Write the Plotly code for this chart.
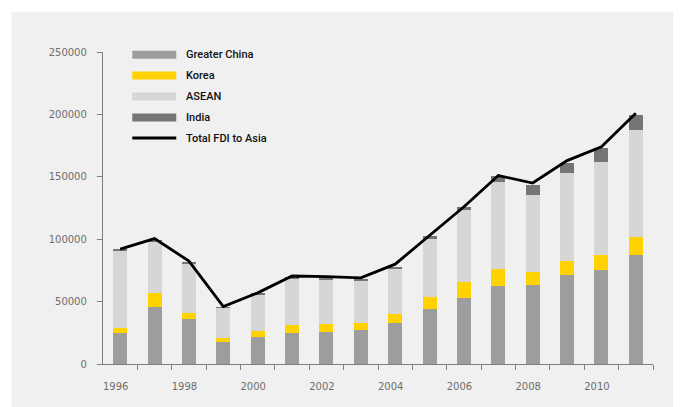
import plotly.graph_objects as go

years = list(range(1996, 2012))
greater_china = [24800, 45300, 36300, 17900, 21300, 25100, 25900, 26900, 33100, 43700, 52900, 62200, 63000, 71500, 75500, 87300]
korea = [4400, 11200, 4500, 2600, 4800, 5800, 5800, 5600, 6600, 9600, 12500, 13600, 10900, 11200, 12000, 14100]
asean = [61800, 41700, 40100, 24600, 29700, 37700, 35800, 34200, 36600, 46800, 58400, 70000, 61500, 70300, 74500, 86300]
india = [700, 800, 1000, 500, 600, 900, 1100, 1100, 1400, 2100, 2400, 4500, 8200, 8200, 11000, 12000]
total_fdi = [92000, 100500, 82500, 46000, 57000, 70500, 70000, 69000, 80000, 103000, 126000, 151000, 145000, 163000, 174000, 201000]

x_label_years = [1996, 1998, 2000, 2002, 2004, 2006, 2008, 2010]
y_ticks = [0, 50000, 100000, 150000, 200000, 250000]

series_names = ["Greater China", "Korea", "ASEAN", "India"]
series_values = [greater_china, korea, asean, india]
colors = ["#9d9d9d", "#ffd200", "#d6d6d6", "#757575"]

W, H = 681, 407
OFF = 8  # page body margin
L, T = 102.7 - OFF, 52.3 - OFF
R, B = W - (653 - OFF), H - (364.3 - OFF)
pw, ph = W - L - R, H - T - B

def px(xp):
    return (xp - OFF - L) / pw

def py(yp):
    return (H - B - (yp - OFF)) / ph

fig = go.Figure()
for name, vals, c in zip(series_names, series_values, colors):
    fig.add_trace(go.Bar(x=years, y=vals, name=name, marker=dict(color=c, line=dict(width=0)),
                         width=0.41, showlegend=False))
fig.add_trace(go.Scatter(x=years, y=total_fdi, name="Total FDI to Asia", mode="lines",
                         line=dict(color="black", width=2.8), showlegend=False))

shapes = []
annotations = []
# white strips outside panel
shapes.append(dict(type="rect", xref="paper", yref="paper", x0=px(0), x1=px(W + 20), y0=py(0), y1=py(12),
                   fillcolor="white", line=dict(width=0), layer="below"))
shapes.append(dict(type="rect", xref="paper", yref="paper", x0=px(0), x1=px(11), y0=py(H + 20), y1=py(0),
                   fillcolor="white", line=dict(width=0), layer="below"))

# custom legend
leg_rows = [55, 75.7, 96.7, 117.7, 138.3]
for i, (name, c) in enumerate(zip(series_names + ["Total FDI to Asia"], colors + ["black"])):
    yc = leg_rows[i]
    if i < 4:
        shapes.append(dict(type="rect", xref="paper", yref="paper", x0=px(132), x1=px(176),
                           y0=py(yc + 4), y1=py(yc - 4), fillcolor=c, line=dict(width=0)))
    else:
        shapes.append(dict(type="line", xref="paper", yref="paper", x0=px(132), x1=px(176),
                           y0=py(yc), y1=py(yc), line=dict(color="black", width=3)))
    annotations.append(dict(xref="paper", yref="paper", x=px(184), y=py(yc), text=name,
                            showarrow=False, xanchor="left", yanchor="middle",
                            font=dict(family="Roboto, Arial", size=11, color="#111111", weight=500)))

fig.update_layout(
    width=W, height=H,
    margin=dict(l=L, r=R, t=T, b=B),
    paper_bgcolor="#f0f0f0", plot_bgcolor="#f0f0f0",
    barmode="stack",
    shapes=shapes, annotations=annotations,
    font=dict(family="DejaVu Sans, Verdana", size=10, color="#6e6e6e"),
    xaxis=dict(range=[1995.5, 2011.5], tickvals=[y - 0.13 for y in x_label_years],
               ticktext=[str(y) for y in x_label_years], ticks="", showgrid=False, zeroline=False,
               showline=True, linecolor="#7f7f7f", linewidth=1.3, ticklabelstandoff=13,
               minor=dict(tickvals=[y + 0.5 for y in years], ticks="outside", ticklen=5,
                          tickcolor="#7f7f7f", tickwidth=1.3, showgrid=False)),
    yaxis=dict(range=[0, 250000], tickvals=y_ticks, ticktext=[str(v) for v in y_ticks],
               ticks="outside", ticklen=5, tickcolor="#7f7f7f", tickwidth=1.3,
               showgrid=False, zeroline=False, showline=True, linecolor="#7f7f7f", linewidth=1.3,
               ticklabelstandoff=8),
)

fig.write_html("out.html")
